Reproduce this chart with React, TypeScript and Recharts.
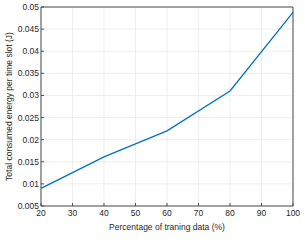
import { CartesianGrid, Line, LineChart, ReferenceLine, XAxis, YAxis } from "recharts";

const percentages = [20, 40, 60, 80, 100];
const energy = [0.009, 0.0161, 0.022, 0.031, 0.0488];
const xTicks = [20, 30, 40, 50, 60, 70, 80, 90, 100];
const yTicks = [0.005, 0.01, 0.015, 0.02, 0.025, 0.03, 0.035, 0.04, 0.045, 0.05];

const data = percentages.map((p, i) => ({ p, e: energy[i] }));

const axisColor = "#4d4d4d";
const tickStyle = { fill: "#262626", fontSize: 8.5, fontFamily: "Liberation Sans, Arial, sans-serif" };

export default function App() {
  return (
    <div style={{ position: "absolute", left: 0, top: 0, background: "#fff" }}>
      <LineChart width={305} height={244} data={data} margin={{ top: 7, right: 12, bottom: 0, left: 0 }}>
        <CartesianGrid stroke="#e6e6e6" strokeWidth={0.7} />
        <XAxis
          dataKey="p"
          type="number"
          domain={[20, 100]}
          ticks={xTicks}
          height={38}
          stroke={axisColor}
          tick={tickStyle}
          tickSize={-3}
          tickMargin={7}
          label={{
            value: "Percentage of traning data (%)",
            position: "insideBottom",
            offset: 14,
            style: { ...tickStyle, fill: "#262626" },
          }}
        />
        <YAxis
          type="number"
          domain={[0.005, 0.05]}
          ticks={yTicks}
          width={41}
          stroke={axisColor}
          tick={tickStyle}
          tickSize={-3}
          tickMargin={5}
          interval={0}
          label={{
            value: "Total consumed energy per time slot (J)",
            angle: -90,
            position: "insideLeft",
            offset: 9,
            style: { ...tickStyle, textAnchor: "middle" },
          }}
        />
        <ReferenceLine y={0.05} stroke={axisColor} />
        <ReferenceLine x={100} stroke={axisColor} />
        <Line
          dataKey="e"
          stroke="#0072BD"
          strokeWidth={1.3}
          dot={false}
          isAnimationActive={false}
        />
      </LineChart>
    </div>
  );
}
